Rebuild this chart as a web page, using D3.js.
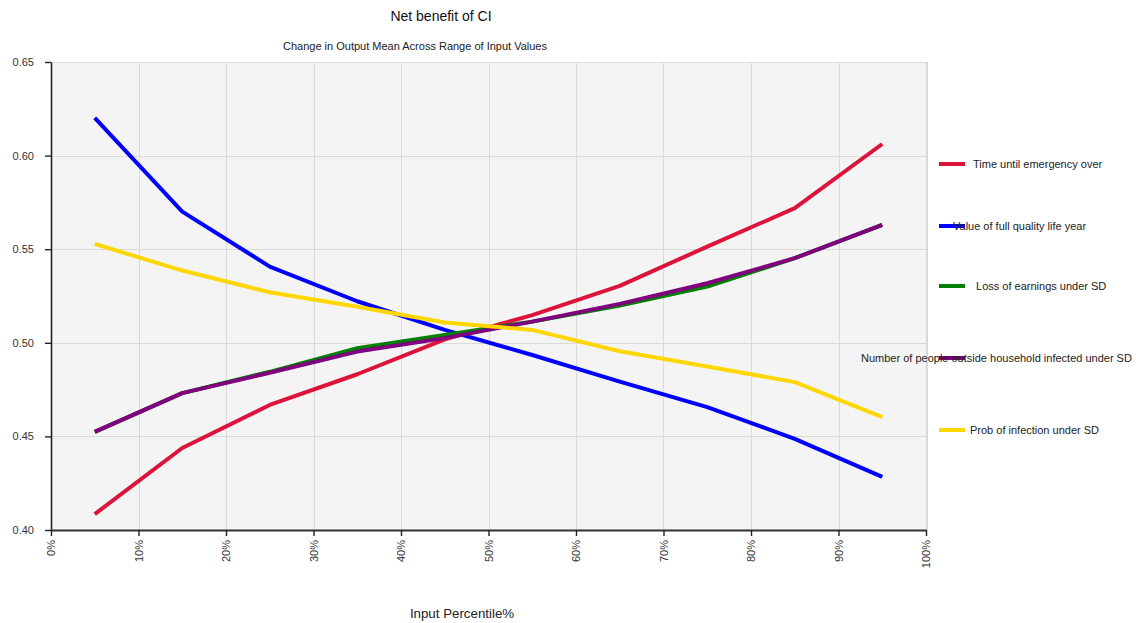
<!DOCTYPE html>
<html>
<head>
<meta charset="utf-8">
<script src="https://cdn.jsdelivr.net/npm/d3@7/dist/d3.min.js"></script>
<style>
  html, body { margin: 0; padding: 0; background: #fff; }
  svg { display: block; font-family: "Liberation Sans", Arial, sans-serif; }
</style>
</head>
<body>
<svg id="chart" width="1136" height="623"></svg>
<script>
// ---- data ----
const percentiles = [5, 15, 25, 35, 45, 55, 65, 75, 85, 95];
const timeUntilEmergencyOver   = [0.4085, 0.4438, 0.4668, 0.4832, 0.5018, 0.5148, 0.5304, 0.5514, 0.5719, 0.6062];
const valueFullQualityLifeYear = [0.6201, 0.5701, 0.5407, 0.5222, 0.5069, 0.4935, 0.4793, 0.4656, 0.4487, 0.4284];
const lossOfEarningsUnderSD    = [0.4524, 0.4731, 0.4845, 0.4971, 0.5042, 0.5113, 0.5199, 0.5300, 0.5452, 0.5630];
const numberInfectedUnderSD    = [0.4524, 0.4731, 0.4840, 0.4953, 0.5025, 0.5113, 0.5208, 0.5318, 0.5452, 0.5630];
const probInfectionUnderSD     = [0.5528, 0.5386, 0.5270, 0.5193, 0.5108, 0.5069, 0.4955, 0.4873, 0.4790, 0.4603];
const seriesNames = [
  "Time until emergency over",
  "Value of full quality life year",
  " Loss of earnings under SD",
  "Number of people outside household infected under SD",
  "Prob of infection under SD"
];
const seriesValues = [timeUntilEmergencyOver, valueFullQualityLifeYear, lossOfEarningsUnderSD, numberInfectedUnderSD, probInfectionUnderSD];
const yTicks = [0.40, 0.45, 0.50, 0.55, 0.60, 0.65];
const xTicks = [0, 10, 20, 30, 40, 50, 60, 70, 80, 90, 100];
const titleText = "Net benefit of CI";
const subtitleText = "Change in Output Mean Across Range of Input Values";
const xLabelText = "Input Percentile%";

// ---- styles / layout ----
const colors = ["#DC143C", "#0000FF", "#008000", "#800080", "#FFD700"];
const legendY = [164, 226, 286, 358, 430];
const legendTextX = [973, 953, 973, 861, 970];

const svg = d3.select("#chart");
const plot = { left: 51, right: 926, top: 62, bottom: 530 };

const x = d3.scaleLinear().domain([0, 100]).range([plot.left, plot.right]);
const y = d3.scaleLinear().domain([0.40, 0.65]).range([plot.bottom, plot.top]);

// plot background
svg.append("rect")
  .attr("x", plot.left).attr("y", plot.top)
  .attr("width", plot.right - plot.left + 1).attr("height", plot.bottom - plot.top)
  .attr("fill", "#f4f4f4");

// grid
const grid = svg.append("g").attr("stroke", "#dadada").attr("stroke-width", 1);
grid.selectAll("line.v").data(xTicks.slice(1)).join("line")
  .attr("x1", d => Math.round(x(d)) + 0.5).attr("x2", d => Math.round(x(d)) + 0.5)
  .attr("y1", plot.top).attr("y2", plot.bottom);
grid.selectAll("line.h").data(yTicks.slice(1)).join("line")
  .attr("x1", plot.left).attr("x2", plot.right)
  .attr("y1", d => Math.round(y(d)) + 0.5).attr("y2", d => Math.round(y(d)) + 0.5);
grid.append("line")
  .attr("x1", plot.right + 1.5).attr("x2", plot.right + 1.5)
  .attr("y1", plot.top).attr("y2", plot.bottom);

// axes
const yAxis = d3.axisLeft(y).tickValues(yTicks).tickFormat(d3.format(".2f")).tickSize(6).tickSizeOuter(0);
const gy = svg.append("g").attr("transform", `translate(${plot.left},0)`).call(yAxis);
gy.select(".domain").attr("stroke", "#222").attr("stroke-width", 1.6);
gy.selectAll(".tick line").attr("stroke", "#222").attr("stroke-width", 1.4);
gy.selectAll(".tick text").attr("font-size", 11).attr("fill", "#333").attr("x", -17)
  .attr("font-family", "Liberation Sans, Arial, sans-serif");

const xAxis = d3.axisBottom(x).tickValues(xTicks).tickFormat(d => d + "%").tickSize(6).tickSizeOuter(0);
const gx = svg.append("g").attr("transform", `translate(0,${plot.bottom})`).call(xAxis);
gx.select(".domain").attr("stroke", "#333").attr("stroke-width", 2);
gx.selectAll(".tick line").attr("stroke", "#222").attr("stroke-width", 1.4);
gx.selectAll(".tick text")
  .attr("font-size", 11).attr("fill", "#333")
  .attr("font-family", "Liberation Sans, Arial, sans-serif")
  .attr("text-anchor", "end")
  .attr("transform", "rotate(-90)")
  .attr("x", -10).attr("y", 0).attr("dy", "0.35em");

// lines
const line = d3.line().x((d, i) => x(percentiles[i])).y(d => y(d));
svg.append("g").selectAll("path").data(seriesValues).join("path")
  .attr("d", d => line(d))
  .attr("fill", "none")
  .attr("stroke", (d, i) => colors[i])
  .attr("stroke-width", 4)
  .attr("stroke-linejoin", "round");

// legend
const lg = svg.append("g");
seriesNames.forEach((name, i) => {
  lg.append("line")
    .attr("x1", 939).attr("x2", 965)
    .attr("y1", legendY[i]).attr("y2", legendY[i])
    .attr("stroke", colors[i]).attr("stroke-width", 4);
  lg.append("text")
    .attr("x", legendTextX[i]).attr("y", legendY[i] + 4)
    .attr("font-size", 11).attr("fill", "#222")
    .attr("xml:space", "preserve")
    .style("white-space", "pre")
    .text(name);
});

// titles
svg.append("text").attr("x", 441).attr("y", 21).attr("text-anchor", "middle")
  .attr("font-size", 14).attr("fill", "#111").text(titleText);
svg.append("text").attr("x", 415).attr("y", 50).attr("text-anchor", "middle")
  .attr("font-size", 11).attr("fill", "#222").text(subtitleText);
svg.append("text").attr("x", 462).attr("y", 618).attr("text-anchor", "middle")
  .attr("font-size", 13.3).attr("fill", "#222").text(xLabelText);
</script>
</body>
</html>
